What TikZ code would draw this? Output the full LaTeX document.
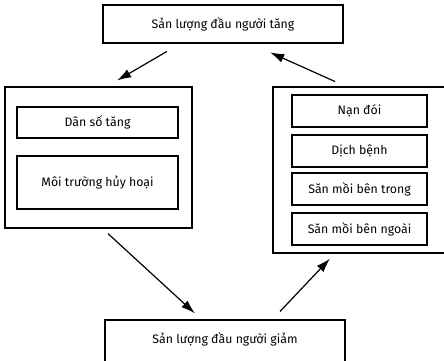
\documentclass[tikz,border=0pt]{standalone}
\usepackage{fontspec}
\setmainfont{Fira Sans}
\usetikzlibrary{arrows.meta,calc}
\begin{document}
\begin{tikzpicture}[x=1pt,y=-1pt,
  lbl/.style={font=\fontsize{12.3}{14}\selectfont},
  box/.style={draw,line width=1.3pt,inner sep=0pt,lbl},
  arr/.style={line width=1.2pt,-{Latex[length=14pt,width=9pt]}}]
\useasboundingbox (0,0) rectangle (444,360);
\clip (0,0) rectangle (444,360);
% top and bottom
\node[box,minimum width=240pt,minimum height=38pt] (top) at (223,24) {Sản lượng đầu người tăng};
\node[box,minimum width=240pt,minimum height=45pt] (bot) at (225,342.5) {};
\node[lbl] (botlbl) at (225,339) {Sản lượng đầu người giảm};
% left group
\node[box,minimum width=187pt,minimum height=141pt] (left) at (98.5,157.5) {};
\node[box,minimum width=161pt,minimum height=31pt] (l1) at (97.5,122.5) {Dân số tăng};
\node[box,minimum width=161pt,minimum height=53pt] (l2) at (97.5,182.5) {Môi trường hủy hoại};
% right group
\node[box,minimum width=179pt,minimum height=166pt] (right) at (362.5,170) {};
\node[box,minimum width=135pt,minimum height=32pt] (r1) at (359.5,111) {Nạn đói};
\node[box,minimum width=135pt,minimum height=32pt] (r2) at (359.5,151) {Dịch bệnh};
\node[box,minimum width=135pt,minimum height=32pt] (r3) at (359.5,189) {Săn mồi bên trong};
\node[box,minimum width=135pt,minimum height=32pt] (r4) at (359.5,229) {Săn mồi bên ngoài};
% arrows
\draw[arr,shorten <=15.5pt,shorten >=11.7pt] (top.south -| 180.3,0) -- (left.north -| 107,0);
\draw[arr,shorten <=11.9pt,shorten >=21.5pt] (right.north -| 345.8,0) -- (top.south -| 250.5,0);
\draw[arr,shorten <=7.4pt,shorten >=8.8pt] (left.south -| 102.6,0) -- (bot.north -| 201.4,0);
\draw[arr,shorten <=10.9pt,shorten >=6.8pt] (bot.north -| 272.6,0) -- (right.south -| 334.6,0);
\end{tikzpicture}
\end{document}
